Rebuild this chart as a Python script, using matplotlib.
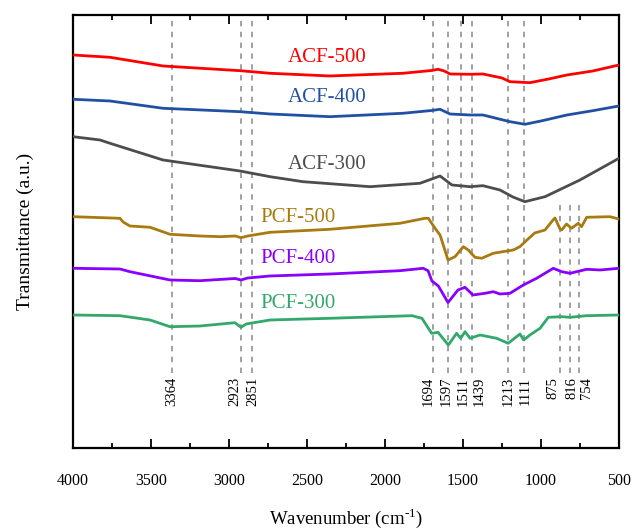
import matplotlib
matplotlib.use('Agg')
import matplotlib.pyplot as plt
from matplotlib.ticker import MultipleLocator

plt.rcParams['font.family'] = 'Liberation Serif'
plt.rcParams['mathtext.fontset'] = 'custom'
plt.rcParams['mathtext.rm'] = 'Liberation Serif'

# spectra (wavenumber in cm-1, transmittance in a.u. with offsets)
acf500_x = [4000, 3763, 3423, 2930, 2737, 2353, 1885, 1700, 1660, 1620, 1583, 1455, 1372,
            1250, 1199, 1071, 950, 833, 667, 500]
acf500_y = [393, 390.7, 382, 377.3, 374.7, 372, 374.7, 377.5, 378.7, 377, 374, 373.7, 374,
            370, 366.3, 365.3, 369, 373, 377, 383]

acf400_x = [4000, 3763, 3423, 2930, 2737, 2353, 1885, 1700, 1647, 1583, 1455, 1372, 1199,
            1103, 1000, 833, 667, 500]
acf400_y = [348.7, 347, 339.7, 336.3, 334, 331.3, 334.7, 337.5, 338.7, 334, 333, 333, 326.3,
            323.7, 327, 333, 337.3, 342]

acf300_x = [4000, 3827, 3763, 3423, 2930, 2737, 2526, 2096, 1776, 1647, 1571, 1455, 1372,
            1263, 1180, 1103, 974, 750, 500]
acf300_y = [311.3, 308, 304.7, 288, 277, 271.3, 266.3, 261.3, 264.7, 272, 263, 261.3, 262.3,
            258, 251, 246.3, 251.3, 268, 289.7]

pcf500_x = [4000, 3699, 3679, 3635, 3506, 3378, 3186, 3058, 2960, 2923, 2880, 2737, 2353,
            1904, 1744, 1722, 1679, 1647, 1596, 1551, 1498, 1466, 1423, 1380, 1306, 1178,
            1135, 1090, 1040, 974, 923, 910, 878, 867, 836, 804, 761, 740, 707, 558, 500]
pcf500_y = [231.3, 229.7, 226, 222, 220.7, 213.7, 212, 211.3, 212, 210.3, 212, 215.7, 218.7,
            224.7, 229.7, 229.7, 219.7, 213, 188, 191.3, 201.3, 198, 190.7, 189.7, 194.7, 198,
            201.3, 208, 215, 218, 228, 230, 219, 218, 224, 219.7, 224.7, 221.3, 230.7, 231.3, 229]

pcf400_x = [4000, 3699, 3635, 3378, 3186, 2960, 2923, 2880, 2737, 2353, 1904, 1755, 1724,
            1699, 1658, 1596, 1532, 1487, 1436, 1359, 1306, 1263, 1199, 1113, 1028, 921, 867,
            814, 707, 622, 500]
pcf400_y = [179.7, 179, 176.3, 168, 167.3, 169.5, 168, 170, 172, 174, 177.3, 179.7, 177.3,
            167, 162, 145.5, 158, 160.7, 153, 154.7, 156.3, 154, 154.7, 163, 169.7, 179.7, 176.3,
            174.7, 178.7, 178, 179.7]

pcf300_x = [4000, 3699, 3506, 3378, 3186, 2962, 2923, 2890, 2737, 2353, 1827, 1763, 1701,
            1660, 1594, 1541, 1515, 1487, 1455, 1391, 1284, 1210, 1135, 1111, 1071, 1006, 953,
            867, 814, 707, 500]
pcf300_y = [133, 132.3, 128, 121.3, 122, 125.3, 120.7, 124, 128, 129.7, 132.3, 129.7, 114.7,
            115.7, 103, 114.7, 109.7, 116.3, 109.7, 113, 109.7, 104.7, 114, 108, 113, 119.7, 130.7,
            131.3, 130.7, 132.3, 133]

names = ['ACF-500', 'ACF-400', 'ACF-300', 'PCF-500', 'PCF-400', 'PCF-300']
colors = ['#ff0000', '#2150a3', '#4d4d4d', '#a87a12', '#8a00ff', '#32a86c']
label_x = [2372, 2372, 2372, 2555, 2555, 2555]
label_y = [386, 346, 279, 226, 185, 140]

peaks = [3364, 2923, 2851, 1694, 1597, 1511, 1439, 1213, 1111, 875, 816, 754]
peak_top = [433, 433, 433, 433, 433, 433, 433, 433, 433, 246, 246, 246]
# where each peak label sits (spread a little so they do not collide)
peak_label_x = [3365, 2962, 2846, 1724, 1609, 1500, 1397, 1212, 1103, 923, 801, 705]

xs = [acf500_x, acf400_x, acf300_x, pcf500_x, pcf400_x, pcf300_x]
ys = [acf500_y, acf400_y, acf300_y, pcf500_y, pcf400_y, pcf300_y]

fig = plt.figure(figsize=(6.37, 5.31), dpi=100)
ax = fig.add_axes([0.1146, 0.1563, 0.8571, 0.8155])

# peak guide lines
for p, top, lx in zip(peaks, peak_top, peak_label_x):
    ax.plot([p, p], [75, top], color='#9a9a9a', lw=1.3, ls=(0, (3, 3)), zorder=1)
    ax.text(lx, 71, str(p), rotation=90, ha='center', va='top', fontsize=10.5)

for x, y, c, n, lx, ly in zip(xs, ys, colors, names, label_x, label_y):
    ax.plot(x, y, color=c, lw=2.0, zorder=3, solid_joinstyle='round')
    ax.text(lx, ly, n, color=c, fontsize=15, ha='center', va='baseline')

ax.set_xlim(4000, 500)
ax.set_ylim(0, 433)
ax.set_yticks([])
ax.xaxis.set_major_locator(MultipleLocator(500))
ax.xaxis.set_minor_locator(MultipleLocator(250))
ax.tick_params(axis='x', which='major', direction='in', length=6.5, width=1.3,
               top=True, labelsize=11.5, pad=18)
ax.tick_params(axis='x', which='minor', direction='in', length=3.5, width=1.3, top=True)
for s in ax.spines.values():
    s.set_linewidth(1.6)

ax.set_xlabel('Wavenumber (cm$^{\\text{-1}}$)', fontsize=13.5, labelpad=12)
ax.set_ylabel('Transmittance (a.u.)', fontsize=14, labelpad=28)

fig.savefig('out.png', dpi=100)
